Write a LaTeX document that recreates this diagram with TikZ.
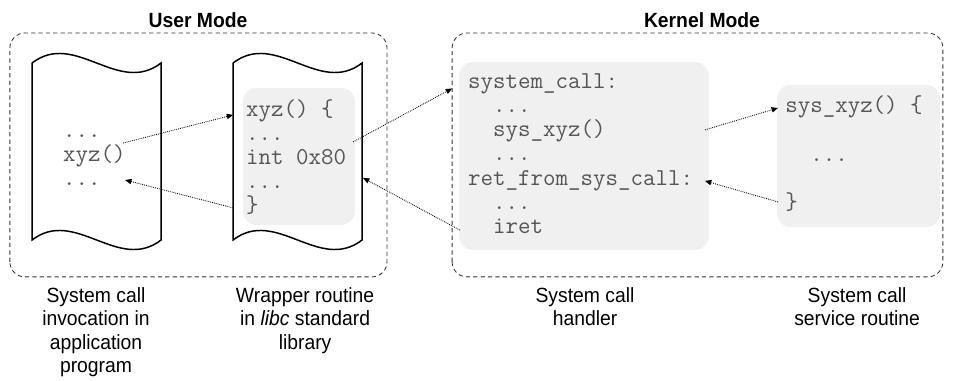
\documentclass[tikz,border=0pt]{standalone}
\usepackage{fontspec}
\usepackage{tikz}
\usetikzlibrary{arrows.meta}
\newfontfamily\labelfont[FakeStretch=0.94]{Liberation Sans}
\definecolor{codegray}{RGB}{85,85,85}
\definecolor{boxgray}{RGB}{240,240,240}
\definecolor{edgegray}{RGB}{50,50,50}

\begin{document}
\begin{tikzpicture}[
    code/.style={font=\ttfamily\fontsize{23}{22.8}\selectfont,text=codegray,
      align=left,inner sep=0pt,anchor=base west},
    caption/.style={font=\labelfont\fontsize{19.5}{22.3}\selectfont,
      align=center,inner sep=0pt,anchor=north},
    modetitle/.style={font=\labelfont\bfseries\fontsize{19.5}{22}\selectfont},
    region/.style={edgegray,line width=0.8pt,dash pattern=on 4pt off 3pt,rounded corners=0.5cm},
    codebox/.style={fill=boxgray,rounded corners=0.45cm},
    pageline/.style={line width=1.4pt},
    flow/.style={densely dotted,line width=0.8pt,-{Triangle[length=6pt,width=5pt]}}]
    \useasboundingbox (0,0) rectangle (31.8,12.7);

    % Mode regions
    \draw[region] (0.33,3.47) rectangle (12.9,11.6);
    \draw[region] (15.07,3.47) rectangle (31.43,11.6);
    \node[modetitle] (usermode) at (6.6,12.03) {User Mode};
    \node[modetitle] (kernelmode) at (23.4,12.03) {Kernel Mode};

    % Shaded code areas
    \fill[codebox] (8.1,5.2) rectangle (11.83,9.77);
    \fill[codebox] (15.3,4.37) rectangle (23.63,10.63);
    \fill[codebox] (25.9,5.13) rectangle (31.33,9.87);

    % Pages
    \foreach \x in {1.07,7.77}
      \draw[pageline] (\x,10.6) .. controls (\x+1.43,11.7) and (\x+2.87,9.5) .. (\x+4.3,10.6)
        -- (\x+4.3,4.7) .. controls (\x+2.87,3.6) and (\x+1.43,5.8) .. (\x,4.7) -- cycle;

    % Code (anchored at the last line)
    \node[code] (invoke) at (2.1,6.53) {...\\xyz()\\...};
    \node[code] (wrapper) at (8.2,5.6) {xyz() \{\\...\\int 0x80\\...\\\}};
    \node[code] (handler) at (15.6,4.93) {system\_call:\\\ \ ...\\\ \ sys\_xyz()\\\ \ ...\\
      ret\_from\_sys\_call:\\\ \ ...\\\ \ iret};
    \node[code] (service) at (26.17,5.73) {sys\_xyz() \{\\[22.8pt]\ \ ...\\[22.8pt]\}};

    % Captions
    \node[caption] (cap1) at (3.2,3.13) {System call\\invocation in\\application\\program};
    \node[caption] (cap2) at (10.17,3.13) {Wrapper routine\\in \textit{libc} standard\\library};
    \node[caption] (cap3) at (19.5,3.13) {System call\\handler};
    \node[caption] (cap4) at (28.57,3.13) {System call\\service routine};

    % Arrow ends
    \coordinate (callout) at (4.1,7.93);
    \coordinate (wrapin) at (7.77,8.87);
    \coordinate (wrapret) at (7.77,5.77);
    \coordinate (callret) at (4.17,6.7);
    \coordinate (trap) at (11.77,7.97);
    \coordinate (kentry) at (15.07,9.75);
    \coordinate (kexit) at (15.33,5.03);
    \coordinate (wrapback) at (12.1,6.77);
    \coordinate (dispatch) at (23.5,8.37);
    \coordinate (svcin) at (25.93,9.1);
    \coordinate (svcret) at (25.93,5.97);
    \coordinate (handret) at (23.5,6.67);

    % Arrows
    \draw[flow] (callout) -- (wrapin);
    \draw[flow] (wrapret) -- (callret);
    \draw[flow] (trap) -- (kentry);
    \draw[flow] (kexit) -- (wrapback);
    \draw[flow] (dispatch) -- (svcin);
    \draw[flow] (svcret) -- (handret);
\end{tikzpicture}
\end{document}
